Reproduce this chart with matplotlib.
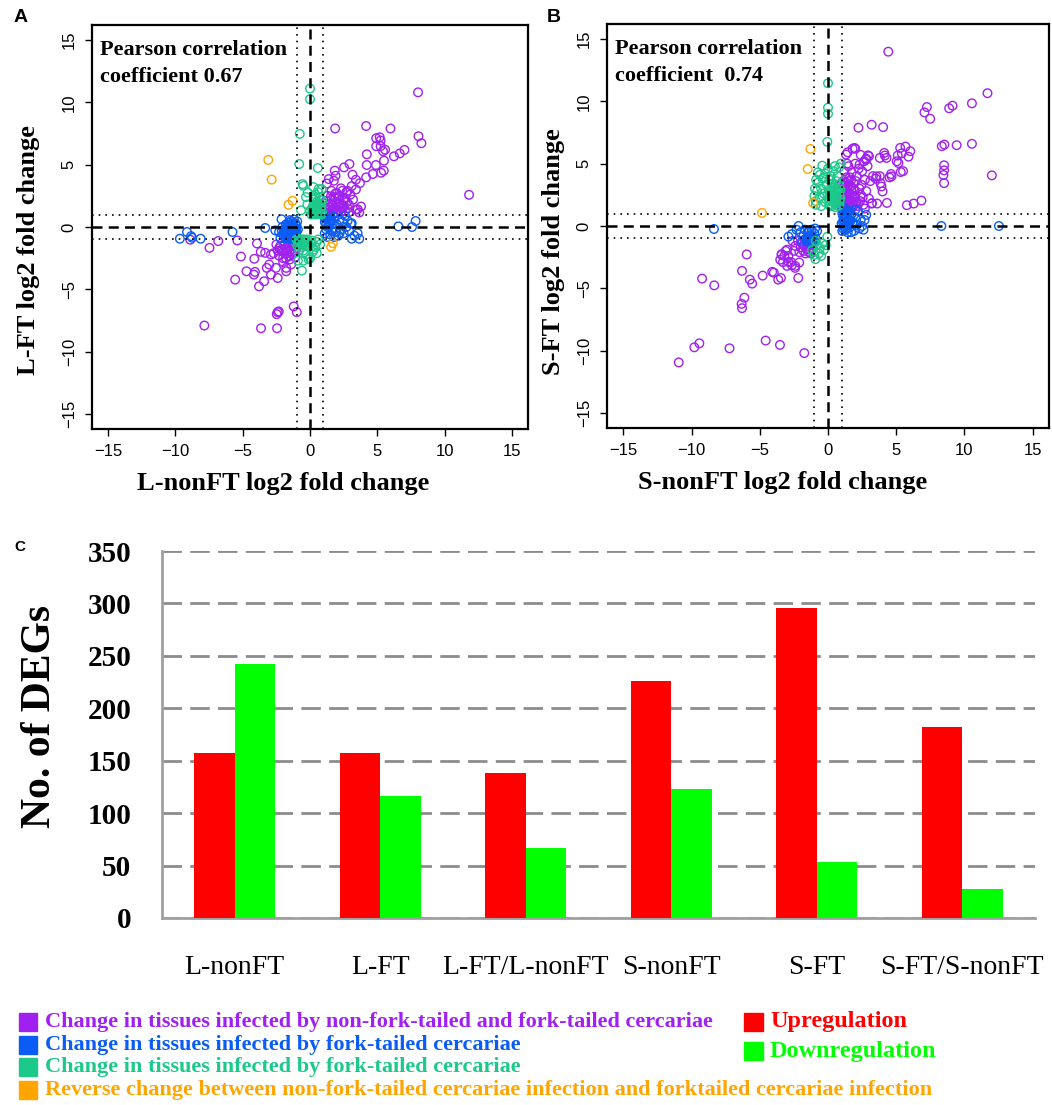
import matplotlib
matplotlib.use("Agg")
import matplotlib.pyplot as plt
from matplotlib.patches import Rectangle

W, H = 1052, 1105
SERIF = "Liberation Serif"
SANS = "Liberation Sans"

# colours
PURPLE = "#A020F0"
BLUE = "#0A5CF5"
GREEN = "#1CC98A"
ORANGE = "#FFA500"
RED = "#FF0000"
LIME = "#00FF00"

# ---------------- panel A : L-nonFT vs L-FT ----------------
a_purple = [
    (8.03, 10.8), (1.87, 7.9), (4.17, 8.1), (5.98, 7.9), (8.06, 7.28), (8.28, 6.72), (4.92, 7.12),
    (5.18, 7.2), (5.25, 6.94), (4.92, 6.48), (5.25, 6.48), (5.43, 6.08), (5.58, 6.2), (7.02, 6.18),
    (6.67, 5.9), (6.24, 5.67), (4.22, 5.83), (5.5, 5.32), (2.93, 5.05), (4.22, 4.97), (4.9, 4.97),
    (5.48, 4.52), (5.28, 4.35), (4.67, 4.25), (4.17, 3.98), (1.84, 4.52), (1.9, 4.11), (1.77, 3.71),
    (2.53, 4.78), (3.16, 4.19), (3.41, 3.79), (3.71, 3.52), (3.1, 3.28), (3.41, 3.01), (2.3, 3.1),
    (2.8, 2.9), (1.26, 3.49), (1.39, 3.84), (11.82, 2.58), (3.79, 1.64), (3.54, 1.42), (3.66, 1.16),
    (2.9, 1.77),
    (1.2, 1.3), (1.4, 1.8), (1.6, 2.2), (1.8, 1.5), (2.0, 2.0), (2.2, 2.5), (2.4, 1.8), (2.6, 2.3),
    (1.5, 1.1), (1.9, 2.7), (2.3, 1.2), (2.7, 2.8), (1.3, 2.5), (1.7, 1.9), (2.1, 1.6), (2.5, 2.1),
    (2.8, 1.5), (1.1, 1.6), (1.6, 2.9), (2.0, 1.1), (1.4, 1.4), (1.8, 2.4), (2.2, 1.9), (2.6, 1.3),
    (3.0, 2.6), (3.2, 2.2), (2.9, 1.2), (3.4, 1.4), (1.2, 2.1), (2.4, 2.9), (1.5, 1.6), (1.9, 1.2),
    (2.35, 1.5), (1.65, 1.35), (2.1, 2.3), (1.3, 1.0), (1.75, 1.1), (2.15, 1.35), (2.5, 1.6),
    (1.55, 2.45), (2.0, 2.7), (2.75, 2.0), (1.95, 1.8),
    (-5.56, -4.22), (-5.13, -2.37), (-5.4, -1.08), (-6.82, -1.13), (-7.47, -1.67), (-8.9, -1.02),
    (-4.14, -2.55), (-3.94, -1.32), (-4.72, -3.55), (-4.17, -3.82), (-4.09, -3.6), (-3.79, -4.76),
    (-3.41, -4.35), (-3.66, -1.99), (-3.33, -2.07), (-3.03, -3.01), (-2.9, -3.82), (-2.4, -4.09),
    (-2.53, -3.28), (-3.21, -3.28), (-2.9, -2.2), (-2.3, -1.7), (-2.0, -2.5), (-1.77, -3.28),
    (-1.77, -3.55), (-1.4, -3.0), (-2.4, -6.83), (-2.32, -6.77), (-2.47, -6.99), (-1.21, -6.37),
    (-0.98, -6.83), (-7.85, -7.9), (-3.64, -8.12), (-2.45, -8.12),
    (-1.0, -1.2), (-1.2, -1.5), (-1.4, -1.8), (-1.6, -1.3), (-1.8, -1.7), (-2.0, -2.0), (-2.2, -1.5),
    (-1.1, -2.0), (-1.3, -2.2), (-1.5, -1.6), (-1.7, -2.1), (-1.9, -1.4), (-2.1, -1.8), (-2.3, -2.3),
    (-1.0, -1.7), (-1.4, -1.2), (-1.6, -2.3), (-2.4, -1.9), (-1.2, -1.9), (-1.8, -2.5), (-2.5, -1.4),
    (-2.7, -2.1), (-1.5, -2.6), (-2.0, -2.8), (-1.1, -2.4), (-1.35, -1.45), (-1.65, -1.75),
]
a_blue = [
    (-9.67, -0.94), (-9.14, -0.4), (-8.84, -0.73), (-8.76, -0.86), (-8.13, -0.94), (-5.76, -0.4),
    (-3.33, -0.08), (-2.58, -0.27), (-2.12, 0.62),
    (-0.9, -0.2), (-1.0, 0.1), (-1.1, -0.5), (-1.2, -0.9), (-1.3, 0.3), (-1.4, -0.3), (-1.5, -0.7),
    (-1.6, 0.0), (-1.7, -0.5), (-1.8, -0.9), (-1.9, -0.2), (-2.0, -0.6), (-1.0, -0.8), (-1.2, -0.1),
    (-1.4, -1.0), (-1.6, -0.4), (-1.8, 0.2), (-1.1, 0.3), (-1.3, -0.6), (-1.5, 0.2), (-1.7, -0.8),
    (-1.9, -0.5), (-2.1, -0.3), (-1.0, -0.4), (-1.25, -0.35), (-1.45, -0.05), (-1.65, -0.65),
    (-1.35, -0.85), (-1.55, -0.45), (-1.15, 0.0), (-2.2, -0.9), (-2.3, -0.4), (-1.2, 0.6), (-1.5, 0.55),
    (-1.05, -0.15), (-1.3, 0.05), (-1.75, -0.2), (-0.95, 0.45), (-1.05, -0.6), (-1.4, 0.45),
    (-1.6, 0.35), (-1.85, -0.35), (-1.95, -0.75), (-2.05, 0.0), (-1.25, -0.7), (-1.45, -0.55),
    (-1.7, 0.1), (-1.15, -0.3), (-1.55, -0.9),
    (6.57, 0.05), (7.58, 0.0), (7.85, 0.48), (3.1, -0.94), (3.66, -0.94), (3.54, -0.5), (3.3, -0.7),
    (3.03, 0.27),
    (1.0, 0.9), (1.1, 0.4), (1.2, -0.2), (1.3, 0.7), (1.4, 0.1), (1.5, -0.6), (1.6, 0.5), (1.7, -0.1),
    (1.8, 0.8), (1.9, -0.4), (2.0, 0.2), (2.1, -0.7), (2.2, 0.6), (2.3, -0.2), (2.4, 0.4), (2.5, -0.5),
    (2.6, 0.9), (2.7, 0.0), (2.8, 0.5), (1.1, -0.5), (1.3, -0.8), (1.5, 0.9), (1.7, 0.3), (1.2, 0.2),
    (1.4, 0.6), (1.6, -0.3), (1.3, 0.0), (1.5, 0.3), (1.15, 0.65), (3.1, 0.3), (2.9, -0.3), (1.8, -0.8),
    (2.2, -0.5),
]
a_green = [
    (0.0, 11.1), (0.0, 10.25), (-0.76, 7.47), (-0.8, 5.05), (0.58, 4.73), (-0.55, 3.44), (-0.5, 3.3),
    (0.25, 3.2), (-0.18, 2.77), (0.63, 3.04), (0.86, 3.04), (0.38, 2.37), (0.75, 2.37), (-0.66, 1.34),
    (0.2, 1.2), (0.3, 1.6), (0.4, 1.0), (0.5, 1.4), (0.6, 1.8), (0.7, 1.1), (0.8, 1.5), (0.9, 1.2),
    (0.25, 1.8), (0.35, 1.3), (0.55, 1.1), (0.65, 1.5), (0.45, 1.7), (0.75, 1.9), (0.85, 1.0),
    (0.15, 1.5), (0.5, 2.0), (0.3, 2.2), (0.7, 2.4), (0.1, 1.0), (0.6, 2.8), (0.0, 1.3), (-0.2, 1.8),
    (-0.3, 2.4), (0.4, 2.6), (0.9, 2.1), (0.35, 1.45), (0.6, 1.25), (0.75, 1.65), (0.2, 1.4),
    (0.45, 1.25), (0.7, 1.35), (0.3, 1.05), (0.55, 1.6), (0.85, 1.7), (0.65, 1.05),
    (-1.0, -1.0), (-0.9, -1.3), (-0.8, -1.1), (-0.7, -1.4), (-0.6, -1.0), (-0.5, -1.2), (-0.4, -1.5),
    (-0.3, -1.1), (-0.95, -1.5), (-0.75, -1.2), (-0.55, -1.4), (-0.85, -0.95), (-0.65, -1.6),
    (-0.45, -1.0), (-0.35, -1.3), (-0.2, -1.0), (-0.1, -1.6), (0.1, -1.3), (-0.8, -1.9), (-0.5, -1.9),
    (-0.3, -2.2), (0.2, -2.0), (0.5, -1.2), (0.75, -1.4), (0.4, -1.6), (-0.9, -2.7), (-0.5, -2.7),
    (0.0, -2.5), (-0.1, -2.6), (-0.6, -3.5), (0.5, -2.1), (0.3, -1.8), (0.1, -1.1), (0.6, -1.0),
]
a_orange = [(-3.1, 5.38), (-2.85, 3.8), (-1.3, 2.1), (-1.6, 1.78), (1.57, -1.59), (1.7, -1.3)]

# ---------------- panel B : S-nonFT vs S-FT ----------------
b_purple = [
    (4.42, 13.98), (11.69, 10.65), (10.55, 9.84), (9.13, 9.65), (8.88, 9.44), (7.25, 9.54),
    (7.07, 9.11), (7.49, 8.6), (2.23, 7.88), (3.2, 8.12), (4.04, 7.93), (8.34, 6.4), (8.53, 6.53),
    (9.43, 6.48), (10.55, 6.59), (12.01, 4.06), (8.51, 4.87), (8.51, 4.46), (8.46, 4.09),
    (8.51, 3.44), (6.85, 2.04), (6.28, 1.8), (5.78, 1.67), (4.32, 1.85), (3.23, 1.83), (5.29, 6.26),
    (5.68, 6.37), (6.03, 6.0), (5.9, 5.56), (5.41, 5.83), (5.11, 5.65), (5.04, 5.19), (5.16, 5.05),
    (5.33, 4.33), (5.5, 4.4), (4.62, 4.17), (4.66, 3.98), (4.17, 5.65), (4.29, 5.46), (3.8, 5.46),
    (4.12, 5.86), (3.85, 3.44), (3.92, 3.17), (4.0, 2.77), (3.55, 3.98), (2.8, 5.32), (2.93, 5.67),
    (1.94, 6.26), (1.44, 5.91), (1.32, 5.73), (2.31, 4.92), (3.8, 4.0), (4.5, 3.9),
    (1.0, 1.6), (1.1, 2.4), (1.2, 3.2), (1.3, 1.9), (1.4, 2.7), (1.5, 3.6), (1.6, 2.1), (1.7, 2.9),
    (1.8, 1.5), (1.9, 3.4), (2.0, 2.3), (2.1, 4.0), (2.2, 1.8), (2.3, 3.0), (2.4, 2.5), (2.5, 4.4),
    (2.6, 1.7), (2.7, 3.7), (2.8, 2.8), (2.9, 4.8), (3.0, 2.2), (1.15, 1.9), (1.25, 2.8), (1.35, 3.9),
    (1.45, 1.5), (1.55, 2.4), (1.65, 3.2), (1.75, 4.3), (1.85, 2.0), (1.95, 2.8), (2.05, 3.6),
    (2.15, 1.6), (2.25, 4.6), (2.35, 2.0), (2.45, 3.3), (2.55, 2.3), (2.65, 5.2), (3.1, 3.6),
    (3.3, 4.0), (3.5, 3.8), (3.2, 1.8), (3.0, 5.6), (2.8, 5.4), (1.2, 4.4), (1.4, 5.0), (1.1, 3.6),
    (1.3, 1.2), (1.6, 1.3), (1.05, 2.9), (1.5, 4.8), (2.0, 5.0), (2.4, 5.7), (1.8, 6.2), (2.0, 6.2),
    (3.6, 1.8), (2.7, 1.4), (1.2, 2.2), (1.4, 1.7), (1.6, 2.6), (1.3, 3.0), (1.7, 3.7), (1.1, 1.3),
    (1.5, 2.0), (1.9, 2.4), (1.35, 2.4), (1.65, 1.8), (1.05, 2.1), (1.15, 2.6), (1.25, 1.6),
    (1.45, 3.2), (1.55, 1.8), (1.75, 2.4), (1.85, 3.0), (2.05, 1.9), (1.3, 3.5), (1.6, 3.9),
    (1.0, 3.4), (1.9, 1.7),
    (-10.94, -10.94), (-9.8, -9.73), (-9.43, -9.41), (-7.22, -9.81), (-4.57, -9.19), (-3.52, -9.54),
    (-1.74, -10.19), (-9.23, -4.22), (-8.34, -4.76), (-6.33, -6.24), (-6.3, -6.59), (-6.13, -5.75),
    (-5.96, -2.28), (-6.3, -3.6), (-5.73, -4.3), (-5.56, -4.62), (-4.79, -3.98), (-4.09, -3.68),
    (-3.97, -3.74), (-3.65, -4.3), (-3.45, -4.17), (-2.18, -4.17), (-3.4, -2.26), (-3.1, -2.0),
    (-2.9, -2.88), (-2.65, -3.15), (-2.41, -3.36), (-2.11, -2.93),
    (-1.0, -1.2), (-1.1, -1.8), (-1.2, -1.0), (-1.3, -1.5), (-1.4, -2.1), (-1.5, -1.3), (-1.6, -1.8),
    (-1.7, -1.1), (-1.8, -2.0), (-1.9, -1.4), (-2.0, -1.7), (-2.1, -2.1), (-1.15, -1.4), (-1.35, -1.9),
    (-1.55, -1.6), (-1.75, -1.5), (-1.25, -2.2), (-1.45, -1.0), (-1.65, -2.2), (-2.2, -1.2),
    (-2.4, -1.6), (-2.6, -1.2), (-2.5, -2.0), (-3.0, -1.9), (-3.2, -2.4), (-3.4, -2.3), (-3.5, -2.7),
    (-3.3, -2.9), (-2.9, -2.4), (-2.7, -2.9), (-3.0, -3.2), (-2.4, -3.2),
]
b_blue = [
    (-8.36, -0.24), (8.31, 0.0), (12.53, 0.0), (2.68, 0.48), (2.8, 0.89),
    (1.0, 1.4), (1.1, 0.8), (1.2, 0.2), (1.3, -0.3), (1.4, 1.1), (1.5, 0.5), (1.6, -0.1), (1.7, 0.9),
    (1.8, 0.3), (1.9, -0.4), (2.0, 0.7), (2.1, 0.1), (2.2, 1.2), (2.3, -0.2), (2.4, 0.5), (2.5, 0.0),
    (1.05, -0.4), (1.15, 1.5), (1.25, 0.6), (1.35, 0.0), (1.45, -0.5), (1.55, 0.9), (1.65, 0.4),
    (1.2, -0.1), (1.3, 1.3), (1.4, 0.7), (1.1, 0.3), (2.6, -0.3), (1.7, -0.5), (2.0, 1.3),
    (1.25, 1.0), (1.5, 0.1), (1.35, 0.4), (1.0, 0.2), (1.1, -0.2), (1.2, 0.9), (1.3, 0.6),
    (1.4, -0.2), (1.5, 1.2), (1.6, 0.7), (1.15, 0.5), (1.45, 0.3), (1.05, 1.0),
    (-0.8, -0.4), (-0.9, -1.0), (-1.0, -0.6), (-1.1, -1.2), (-1.2, -0.3), (-1.3, -0.8), (-1.4, -1.3),
    (-1.5, -0.5), (-1.6, -1.0), (-1.7, -0.3), (-1.8, -0.8), (-1.9, -1.2), (-2.0, -0.5), (-0.95, -0.2),
    (-1.15, -0.9), (-1.35, -0.4), (-1.55, -1.2), (-1.25, -1.1), (-1.45, -0.8), (-1.05, -1.3),
    (-2.16, 0.0), (-2.65, -0.65), (-2.9, -0.85), (-2.3, -0.3),
]
b_green = [
    (0.0, 11.45), (0.0, 9.49), (0.0, 9.0), (-0.05, 6.75),
    (-0.9, 2.0), (-0.8, 2.8), (-0.7, 3.5), (-0.6, 2.3), (-0.5, 3.0), (-0.4, 3.8), (-0.3, 2.6),
    (-0.2, 1.9), (-0.1, 3.3), (0.0, 2.5), (0.1, 2.0), (0.2, 2.9), (0.3, 1.6), (0.4, 2.3), (0.5, 3.1),
    (0.6, 1.8), (0.7, 2.6), (0.8, 2.0), (0.9, 2.9), (0.15, 1.6), (0.35, 2.7), (0.55, 2.2), (0.75, 1.6),
    (0.45, 1.9), (0.65, 3.0), (0.25, 2.4), (0.85, 2.4), (0.05, 2.9), (0.5, 2.6), (0.7, 2.1), (0.3, 3.4),
    (0.6, 3.6), (0.2, 4.0), (-0.2, 4.2), (0.4, 4.4), (0.8, 4.7), (0.94, 5.0), (-0.42, 4.84),
    (-0.6, 4.1), (-0.87, 3.71), (-0.75, 4.3), (-0.95, 3.0), (-1.0, 2.4), (-0.9, 1.7), (-0.5, 1.6),
    (-0.3, 3.9), (0.1, 3.7), (0.7, 4.0), (0.5, 4.8), (0.0, 4.6), (0.35, 2.0), (0.6, 2.4), (0.8, 3.3),
    (0.1, 1.7), (0.25, 2.1), (0.45, 2.8), (0.65, 2.7), (0.85, 1.8), (0.75, 2.9), (0.15, 2.6),
    (0.55, 1.5), (0.4, 3.2), (0.9, 2.2), (0.05, 2.2), (0.3, 2.85),
    (-0.92, -2.66), (-0.67, -2.2), (-0.42, -1.4), (-0.17, -1.53), (-0.05, -0.86), (-1.17, -1.94),
    (-0.8, -1.5), (-0.6, -1.8), (-1.0, -2.3), (-0.9, -1.2), (-0.5, -2.4), (-0.3, -1.9),
]
b_orange = [(-1.29, 6.18), (-1.49, 4.57), (-1.09, 1.85), (-4.84, 1.05)]

panels = [
    ("A", a_purple, a_blue, a_green, a_orange, "L-nonFT log2 fold change", "L-FT log2 fold change",
     "Pearson correlation\ncoefficient 0.67"),
    ("B", b_purple, b_blue, b_green, b_orange, "S-nonFT log2 fold change", "S-FT log2 fold change",
     "Pearson correlation\ncoefficient  0.74"),
]

# ---------------- panel C : numbers of DEGs ----------------
groups = ["L-nonFT", "L-FT", "L-FT/L-nonFT", "S-nonFT", "S-FT", "S-FT/S-nonFT"]
up = [157, 157, 138, 226, 296, 182]
down = [242, 116, 67, 123, 53, 28]
legend_left = [
    ("Change in tissues infected by non-fork-tailed and fork-tailed cercariae", PURPLE),
    ("Change in tissues infected by fork-tailed cercariae", BLUE),
    ("Change in tissues infected by fork-tailed cercariae", GREEN),
    ("Reverse change between non-fork-tailed cercariae infection and forktailed cercariae infection", ORANGE),
]
legend_right = [("Upregulation", RED), ("Downregulation", LIME)]


def fx(px):
    return px / W


def fy(py):
    return 1 - py / H


fig = plt.figure(figsize=(W / 100, H / 100), dpi=100)

boxes = [(92, 25, 528, 429), (607, 24, 1049, 428)]
xlab_pos = [(0.438, -0.134), (0.398, -0.136)]
ylab_pos = [(-0.145, 0.443), (-0.12, 0.436)]
letter_x = [21, 554]
for (letter, pur, blu, gre, ora, xl, yl, txt), (l, t, r, b), xlp, ylp, lx in zip(
        panels, boxes, xlab_pos, ylab_pos, letter_x):
    ax = fig.add_axes([fx(l), fy(b), (r - l) / W, (b - t) / H])
    for pts, col in [(pur, PURPLE), (blu, BLUE), (gre, GREEN), (ora, ORANGE)]:
        xs = [p[0] for p in pts]
        ys = [p[1] for p in pts]
        ax.scatter(xs, ys, s=38, facecolors="none", edgecolors=col, linewidths=1.0, zorder=3)
    ax.axvline(0, color="black", lw=1.8, ls=(0, (4, 2.5)), zorder=4)
    ax.axhline(0, color="black", lw=1.8, ls=(0, (4, 2.5)), zorder=4)
    for v in (-1, 1):
        ax.axvline(v, color="black", lw=1.2, ls=(0, (1, 3)), zorder=4)
        ax.axhline(v, color="black", lw=1.2, ls=(0, (1, 3)), zorder=4)
    ax.set_xlim(-16.2, 16.2)
    ax.set_ylim(-16.2, 16.2)
    ticks = [-15, -10, -5, 0, 5, 10, 15]
    tlabels = [str(v).replace("-", "\u2212") for v in ticks]
    ax.set_xticks(ticks)
    ax.set_yticks(ticks)
    ax.set_xticklabels(tlabels, family=SANS, fontsize=12)
    ax.set_yticklabels(tlabels, family=SANS, fontsize=12, rotation=90, va="center")
    ax.tick_params(length=5, width=1, pad=6)
    for sp in ax.spines.values():
        sp.set_linewidth(1.6)
    ax.set_xlabel(xl, family=SERIF, fontweight="bold", fontsize=19)
    ax.set_ylabel(yl, family=SERIF, fontweight="bold", fontsize=19)
    ax.xaxis.label.set_va("center")
    ax.yaxis.label.set_va("center")
    ax.xaxis.set_label_coords(*xlp)
    ax.yaxis.set_label_coords(*ylp)
    ax.text(0.018, 0.962, txt, transform=ax.transAxes, family=SERIF, fontweight="bold",
            fontsize=16, va="top", ha="left", linespacing=1.45)
    fig.text(fx(lx), fy(17), letter, family=SANS, fontweight="bold", fontsize=14,
             ha="center", va="center")

# bar chart
axc = fig.add_axes([fx(162), fy(918), (1035 - 162) / W, (918 - 551) / H])
xpos = list(range(len(groups)))
bw = 0.28
axc.bar([x - bw / 2 for x in xpos], up, width=bw, color=RED, zorder=3)
axc.bar([x + bw / 2 for x in xpos], down, width=bw, color=LIME, zorder=3)
axc.set_xlim(-0.5, len(groups) - 0.5)
axc.set_ylim(0, 350)
axc.set_yticks(range(0, 351, 50))
axc.set_yticklabels([str(v) for v in range(0, 351, 50)], family=SERIF, fontweight="bold", fontsize=21)
axc.set_xticks(xpos)
axc.set_xticklabels(groups, family=SERIF, fontsize=20)
axc.tick_params(axis="y", length=0, pad=22)
axc.tick_params(axis="x", length=0, pad=27)
axc.yaxis.grid(True, color="#8c8c8c", lw=2, ls=(0, (7, 3)), zorder=0)
axc.set_axisbelow(True)
for side in ("top", "right"):
    axc.spines[side].set_visible(False)
for side in ("left", "bottom"):
    axc.spines[side].set_color("#a0a0a0")
    axc.spines[side].set_linewidth(2)
axc.set_ylabel("No. of DEGs", family=SERIF, fontweight="bold", fontsize=30)
axc.yaxis.label.set_va("center")
axc.yaxis.set_label_coords(-0.14, 0.548)
fig.text(fx(20), fy(547), "C", family=SANS, fontweight="bold", fontsize=11, ha="center", va="center")

# legends
for i, (label, col) in enumerate(legend_left):
    cy = 1022 + i * 22.7
    fig.patches.append(Rectangle((fx(19), fy(cy + 9)), 18 / W, 18 / H, transform=fig.transFigure,
                                 color=col, figure=fig))
    fig.text(fx(45), fy(cy), label, color=col, family=SERIF, fontweight="bold", fontsize=16,
             ha="left", va="center")
for i, (label, col) in enumerate(legend_right):
    cy = 1022 + i * 29
    fig.patches.append(Rectangle((fx(744), fy(cy + 9)), 19 / W, 18 / H, transform=fig.transFigure,
                                 color=col, figure=fig))
    fig.text(fx(770), fy(cy), label, color=col, family=SERIF, fontweight="bold", fontsize=17.5,
             ha="left", va="center")

fig.savefig("out.png", dpi=100)
